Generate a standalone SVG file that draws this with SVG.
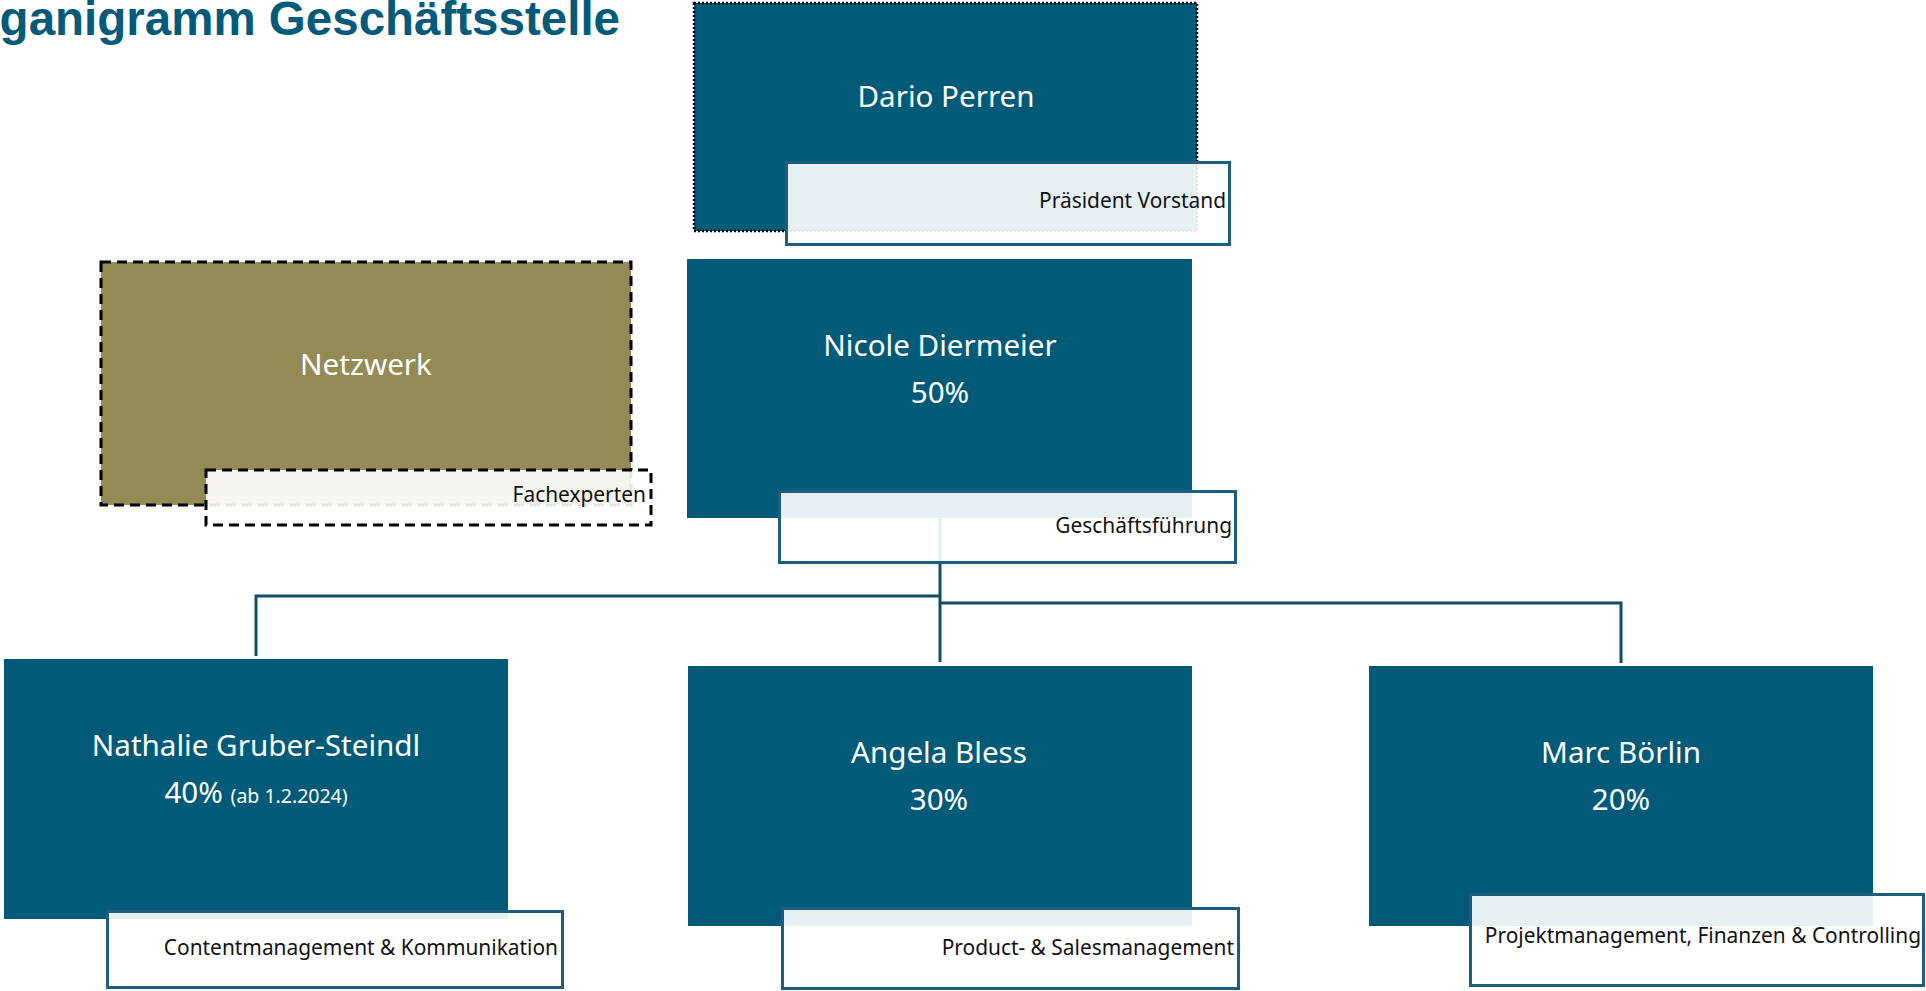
<svg xmlns="http://www.w3.org/2000/svg" width="1926" height="991" viewBox="0 0 1926 991">
<defs>
<style>
.box{fill:#025a79;}
.lbl{fill:#ffffff;fill-opacity:0.9;stroke:#1d5d7f;stroke-width:3;}
.name{font-family:"Noto Sans",Roboto,sans-serif;font-size:29.6px;fill:#ffffff;text-anchor:middle;}
.role{font-family:"Noto Sans",Roboto,sans-serif;font-size:20.9px;fill:#111111;text-anchor:end;}
.small{font-size:19.5px;}
.conn{fill:none;stroke:#0f4d68;stroke-width:3;}
.title{font-family:"Liberation Sans",Arial,sans-serif;font-weight:bold;font-size:47.5px;fill:#045a7a;text-anchor:end;}
</style>
</defs>
<rect width="1926" height="991" fill="#ffffff"/>
<text class="title" x="620" y="35">Organigramm Geschäftsstelle</text>
<g id="connectors">
<path class="conn" d="M940 518 V662"/>
<path class="conn" d="M940 596 H256 V656"/>
<path class="conn" d="M940 603 H1621 V663"/>
</g>
<g id="node-dario">
<rect x="694" y="3" width="503" height="228" class="box" stroke="#000000" stroke-width="2.5" stroke-dasharray="2 2"/>
<rect class="lbl" x="786.5" y="162.5" width="443" height="82"/>
<text class="name" x="946" y="107">Dario Perren</text>
<text class="role" x="1226" y="208">Präsident Vorstand</text>
</g>
<g id="node-netzwerk">
<rect x="101" y="262" width="530" height="243" fill="#948a55" stroke="#000000" stroke-width="3" stroke-dasharray="10 6"/>
<rect x="206" y="470" width="445" height="55" fill="#ffffff" fill-opacity="0.9" stroke="#000000" stroke-width="3" stroke-dasharray="10 6"/>
<text class="name" x="366" y="375">Netzwerk</text>
<text class="role" x="646" y="502">Fachexperten</text>
</g>
<g id="node-nicole">
<rect x="687" y="259" width="505" height="259" class="box"/>
<rect class="lbl" x="779.5" y="491.5" width="456" height="71"/>
<text class="name" x="940" y="356">Nicole Diermeier</text>
<text class="name" x="940" y="403">50%</text>
<text class="role" x="1232" y="533">Geschäftsführung</text>
</g>
<g id="node-nathalie">
<rect x="4" y="659" width="504" height="260" class="box"/>
<rect class="lbl" x="107.5" y="911.5" width="455" height="76"/>
<text class="name" x="256" y="756">Nathalie Gruber-Steindl</text>
<text class="name" x="256" y="803">40% <tspan class="small">(ab 1.2.2024)</tspan></text>
<text class="role" x="558" y="955">Contentmanagement &amp; Kommunikation</text>
</g>
<g id="node-angela">
<rect x="688" y="666" width="504" height="260" class="box"/>
<rect class="lbl" x="782.5" y="908.5" width="456" height="80"/>
<text class="name" x="939" y="763">Angela Bless</text>
<text class="name" x="939" y="810">30%</text>
<text class="role" x="1234" y="955">Product- &amp; Salesmanagement</text>
</g>
<g id="node-marc">
<rect x="1369" y="666" width="504" height="260" class="box"/>
<rect class="lbl" x="1470.5" y="894.5" width="453" height="91"/>
<text class="name" x="1621" y="763">Marc Börlin</text>
<text class="name" x="1621" y="810">20%</text>
<text class="role" x="1921" y="943">Projektmanagement, Finanzen &amp; Controlling</text>
</g>
</svg>
